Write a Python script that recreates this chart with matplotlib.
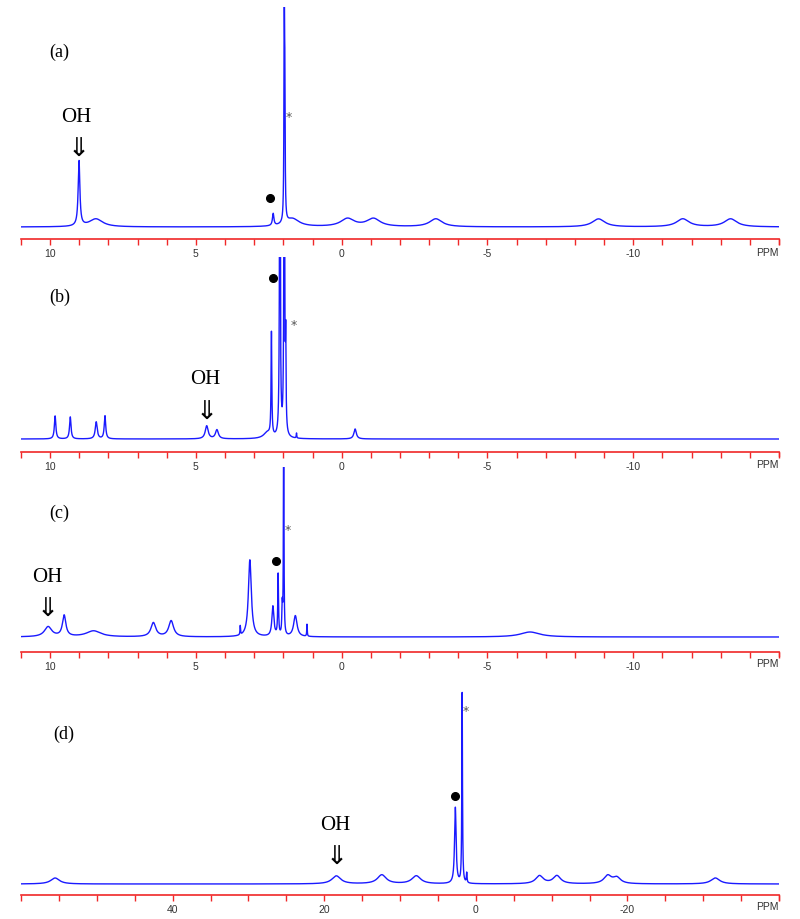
import numpy as np
import matplotlib
matplotlib.use("Agg")
import matplotlib.pyplot as plt
from matplotlib.ticker import MultipleLocator, FixedLocator

# ---------------- data (peak lists) ----------------
panel_labels = ["(a)", "(b)", "(c)", "(d)"]

# (a)
a_pos = [9.01, 8.43, 2.35, 1.97, 1.95, 1.69, -0.2, -1.09, -3.23, -8.81, -11.7, -13.34]
a_hgt = [65, 8, 12, 218, 115, 8, 8, 8, 8, 8, 8, 8]
a_wid = [0.035, 0.28, 0.03, 0.012, 0.012, 0.28, 0.28, 0.28, 0.26, 0.26, 0.26, 0.26]
# (b)
b_pos = [9.83, 9.31, 8.42, 8.12, 4.63, 4.28, 2.55, 2.41, 2.12, 1.97, 1.92, 1.55, -0.46]
b_hgt = [23, 22, 17, 23, 13, 9, 6, 103, 400, 400, 83, 5, 10]
b_wid = [0.03, 0.03, 0.04, 0.03, 0.06, 0.06, 0.15, 0.015, 0.015, 0.015, 0.012, 0.01, 0.05]
# (c)
c_pos = [10.07, 9.52, 8.51, 6.46, 5.85, 3.48, 3.15, 2.36, 2.18, 2.04, 1.99, 1.59, 1.19, -6.46]
c_hgt = [10, 21, 6, 14, 16, 9, 77, 30, 61, 28, 250, 21, 12, 5]
c_wid = [0.15, 0.07, 0.3, 0.1, 0.1, 0.01, 0.06, 0.04, 0.015, 0.015, 0.01, 0.07, 0.01, 0.4]
# (d)
d_pos = [55.5, 18.4, 12.4, 7.85, 2.7, 1.8, 1.2, -8.4, -10.7, -17.4, -18.6, -31.6]
d_hgt = [6, 8, 9, 8, 76, 190, 10, 8, 8, 8, 6, 6]
d_wid = [0.7, 0.7, 0.7, 0.7, 0.12, 0.05, 0.05, 0.6, 0.6, 0.6, 0.6, 0.7]

x_ranges = [(11, -15), (11, -15), (11, -15), (60, -40)]
minor_steps = [1, 1, 1, 5]
label_steps = [5, 5, 5, 20]
ylims = [(-12, 220), (-13, 182), (-14.7, 170), (-11, 205)]

# annotation anchors (ppm, intensity)
label_xy = [(9.69, 176), (9.66, 143), (9.69, 125), (54.4, 151)]
oh_xy = [(9.10, 111), (4.68, 61), (10.11, 60), (18.6, 60)]
arrow_xy = [(9.02, 79), (4.63, 28), (10.07, 29), (18.4, 28)]
dot_xy = [(2.47, 29), (2.34, 161), (2.24, 76), (2.8, 88)]
star_xy = [(1.80, 111), (1.66, 114), (1.84, 107), (1.3, 174)]

peaks = [(a_pos, a_hgt, a_wid), (b_pos, b_hgt, b_wid),
         (c_pos, c_hgt, c_wid), (d_pos, d_hgt, d_wid)]

# axes boxes in pixels (top, bottom) of 920 px figure
boxes = [(8, 240), (258, 453), (468, 652.7), (680, 896)]

W, H = 800, 920
fig = plt.figure(figsize=(W / 100, H / 100), dpi=100)

BLUE = "#1a1aff"
RED = "#f02828"
SANS = ["Liberation Sans Narrow", "Liberation Sans", "DejaVu Sans"]
SERIF = ["Liberation Serif", "DejaVu Serif"]

for i in range(4):
    top, bot = boxes[i]
    ax = fig.add_axes([21 / W, 1 - bot / H, 758 / W, (bot - top) / H])
    ax.patch.set_alpha(0)
    x0, x1 = x_ranges[i]
    x = np.linspace(x0, x1, 60000)
    y = np.zeros_like(x)
    for p, h, w in zip(*peaks[i]):
        y += h * w ** 2 / ((x - p) ** 2 + w ** 2)
    ax.plot(x, y, color=BLUE, lw=1.0, clip_on=True)
    ax.set_xlim(x0, x1)
    ax.set_ylim(*ylims[i])

    for s in ["top", "left", "right"]:
        ax.spines[s].set_visible(False)
    ax.spines["bottom"].set_color(RED)
    ax.spines["bottom"].set_linewidth(1.2)
    ax.set_yticks([])
    ax.xaxis.set_minor_locator(MultipleLocator(minor_steps[i]))
    step = label_steps[i]
    majors = [v for v in range(int(x1), int(x0) + 1) if v % step == 0 and v != x1 and v != x0]
    ax.xaxis.set_major_locator(FixedLocator(majors))
    ax.set_xticklabels([str(v) for v in majors])
    ax.tick_params(axis="x", which="both", direction="out", length=4.5, width=1,
                   color=RED, labelsize=7.5, labelcolor="#333333", pad=2)
    for lab in ax.get_xticklabels():
        lab.set_family(SANS)
    ax.text(1.0, -0.035 if i != 3 else -0.03, "PPM", transform=ax.transAxes, ha="right", va="top",
            fontsize=7.5, color="#333333", family=SANS)
    # right-end tick
    ax.plot([1, 1], [0, -0.022], transform=ax.transAxes, color=RED, lw=1, clip_on=False)

    lx, ly = label_xy[i]
    ax.text(lx, ly, panel_labels[i], ha="center", va="center", fontsize=13, family=SERIF)
    ox, oy = oh_xy[i]
    ax.text(ox, oy, "OH", ha="center", va="center", fontsize=15, family=SERIF)
    axx, ayy = arrow_xy[i]
    ax.text(axx, ayy, "\u21d3", ha="center", va="center", fontsize=19,
            family=["Noto Sans CJK JP", "DejaVu Sans"])
    dx, dy = dot_xy[i]
    ax.plot([dx], [dy], "o", color="black", ms=5.5)
    sx, sy = star_xy[i]
    ax.text(sx, sy, "*", ha="center", va="center", fontsize=9, color="#555555",
            family=["DejaVu Sans"])

fig.savefig("out.png", dpi=100)
